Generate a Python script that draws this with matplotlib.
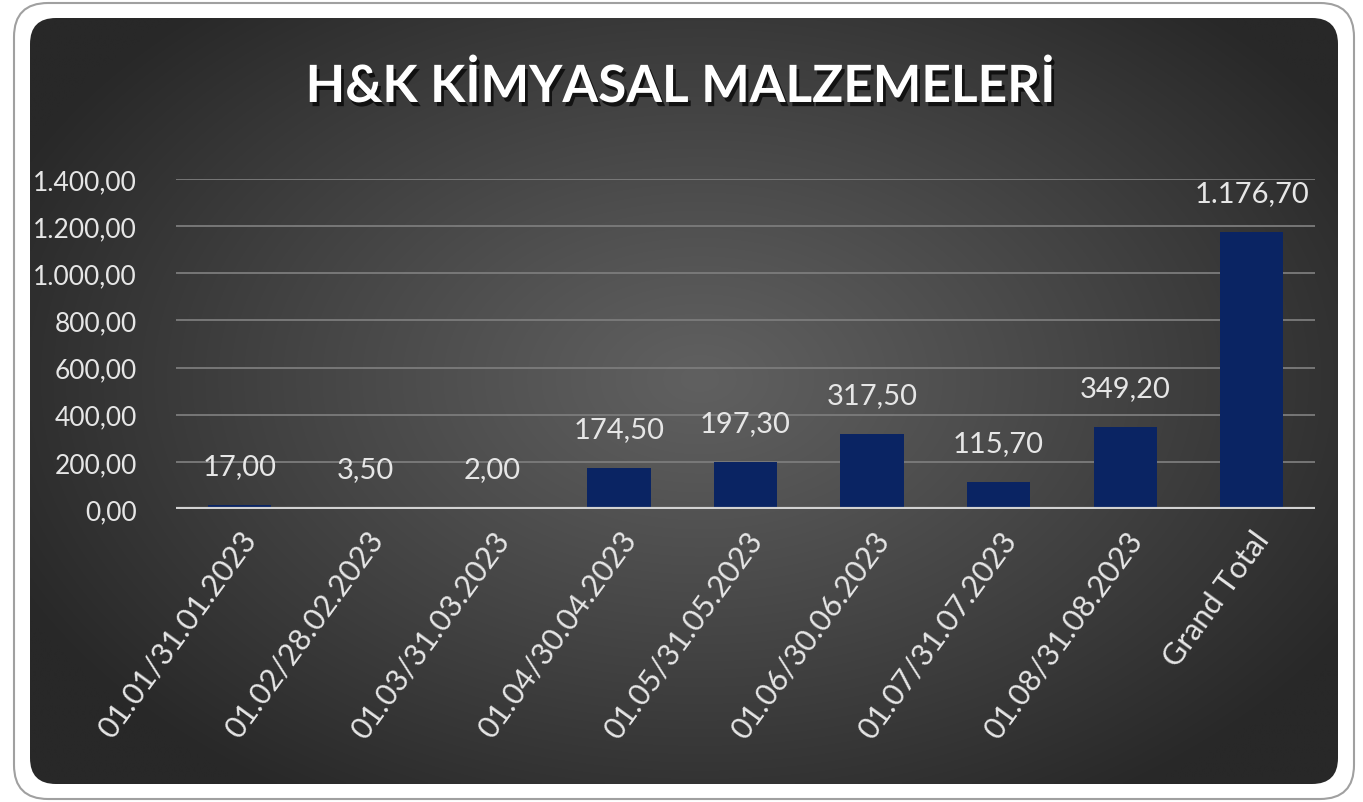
import numpy as np
import matplotlib
matplotlib.use("Agg")
import matplotlib.pyplot as plt
from matplotlib.patches import FancyBboxPatch
from matplotlib.ticker import FuncFormatter
import matplotlib.patheffects as pe

# veriler
categories = ["01.01/31.01.2023", "01.02/28.02.2023", "01.03/31.03.2023",
              "01.04/30.04.2023", "01.05/31.05.2023", "01.06/30.06.2023",
              "01.07/31.07.2023", "01.08/31.08.2023", "Grand Total"]
values = [17.00, 3.50, 2.00, 174.50, 197.30, 317.50, 115.70, 349.20, 1176.70]
yticks = [0, 200, 400, 600, 800, 1000, 1200, 1400]
title = "H&K KİMYASAL MALZEMELERİ"

W, H = 1363, 803
plt.rcParams['font.family'] = ['Lato', 'DejaVu Sans']


def tr_fmt(v, pos=None):
    s = f"{v:,.2f}"
    return s.replace(',', 'X').replace('.', ',').replace('X', '.')


fig = plt.figure(figsize=(W / 100, H / 100), dpi=100, facecolor='white')

# arka plan: beyaz cerceve + koyu gradyan panel
bg = fig.add_axes([0, 0, 1, 1])
bg.axis('off')
outer = FancyBboxPatch((14, 4), 1340, 796, boxstyle="round,pad=0,rounding_size=34",
                       facecolor='white', edgecolor='#a0a0a0', lw=1.5, zorder=0)
bg.add_patch(outer)
inner = FancyBboxPatch((30, 19), 1308, 766, boxstyle="round,pad=0,rounding_size=26",
                       facecolor='none', edgecolor='none', zorder=1)
bg.add_patch(inner)

gx, gy = np.meshgrid(np.linspace(30, 1338, 400), np.linspace(19, 785, 240))
r = np.sqrt(((gx - 700) / 760) ** 2 + ((gy - 380) / 500) ** 2)
r = np.clip(r, 0, 1)
c0, c1 = 0x60 / 255, 0x28 / 255
img = c0 + (c1 - c0) * r ** 1.1
im = bg.imshow(np.dstack([img, img, img]), extent=(30, 1338, 785, 19),
               interpolation='bilinear', aspect='auto', zorder=2)
im.set_clip_path(inner)
bg.set_xlim(0, W)
bg.set_ylim(H, 0)

# grafik
ax = fig.add_axes([176 / W, 1 - 510 / H, (1315 - 176) / W, 330 / H])
ax.set_facecolor('none')
x = np.arange(len(categories))
bars = ax.bar(x, values, width=0.5, color='#0a2463', zorder=3)
ax.set_xlim(-0.5, len(categories) - 0.5)
ax.set_ylim(0, 1400)
ax.set_yticks(yticks)
ax.yaxis.set_major_formatter(FuncFormatter(tr_fmt))
ax.grid(axis='y', color='#7c7c7c', lw=1.3, zorder=0)
ax.axhline(0, color='#d2d2d2', lw=3, zorder=4)
for s in ax.spines.values():
    s.set_visible(False)
ax.tick_params(axis='both', length=0, colors='#e6e6e6', labelsize=19)
ax.tick_params(axis='y', pad=28)
ax.set_xticks(x)
ax.set_xticklabels(categories, rotation=54, ha='right', va='top',
                   rotation_mode='anchor', fontsize=22)
ax.tick_params(axis='x', pad=12)

for xi, v in zip(x, values):
    ax.annotate(tr_fmt(v), (xi, v), xytext=(0, 26), textcoords='offset pixels',
                ha='center', va='bottom', color='#e6e6e6', fontsize=21)

fig.text(680 / W, 1 - 88 / H, title, ha='center', va='center', color='white',
         fontsize=37, fontweight='bold',
         path_effects=[pe.withSimplePatchShadow(offset=(2, -3), shadow_rgbFace='black', alpha=0.7)])

fig.savefig('out.png', dpi=100, facecolor='white')
